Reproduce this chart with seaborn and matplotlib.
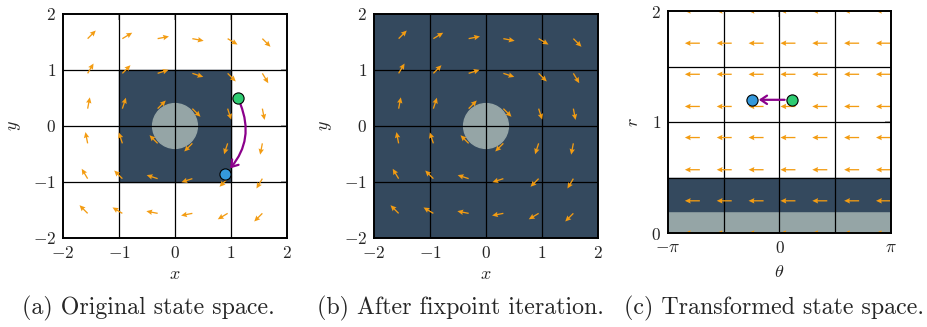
import numpy as np
import matplotlib
matplotlib.use("Agg")
import matplotlib.pyplot as plt
import seaborn as sns
from matplotlib.patches import Circle, Rectangle

# --- data ---
# vector field sample points for panels (a) and (b)
grid_xy = [-1.56, -0.94, -0.31, 0.31, 0.94, 1.56]
# arrow direction in degrees, rows from y=1.56 (top) to y=-1.56 (bottom)
field_angles = [
    [45, 31, 11, -11, -31, -45],
    [59, 45, 18, -18, -45, -59],
    [79, 72, 45, -45, -72, -79],
    [101, 108, 135, -135, -108, -101],
    [121, 135, 162, -162, -135, -121],
    [135, 149, 169, -169, -149, -135],
]
# trajectory in the original space
start_xy = [1.12, 0.50]
end_xy = [0.90, -0.85]
target_radius = 0.4

# transformed space (theta, r)
theta_pts = [-np.pi, -5 * np.pi / 7, -3 * np.pi / 7, -np.pi / 7,
             np.pi / 7, 3 * np.pi / 7, 5 * np.pi / 7, np.pi]
r_pts = [0.0, 0.29, 0.57, 0.86, 1.14, 1.43, 1.71, 2.0]
flow_dtheta = -1.0
start_tr = [0.34, 1.2]
end_tr = [-0.78, 1.2]
band_target = (0.0, 0.2)
band_safe = (0.2, 0.5)

captions = ["(a) Original state space.", "(b) After fixpoint iteration.",
            "(c) Transformed state space."]

# --- style ---
dark = "#34495e"
light = "#95a5a6"
orange = "#f39c12"
green = "#2ecc71"
blue = "#3498db"
purple = "#8b008b"

sns.set_style("white")
plt.rcParams["mathtext.fontset"] = "cm"
plt.rcParams["font.family"] = ["cmr10", "DejaVu Serif"]
plt.rcParams["axes.unicode_minus"] = False

fig = plt.figure(figsize=(9.28, 3.27), dpi=100)
ax_a = fig.add_axes([63 / 928, 1 - 238 / 327, 224 / 928, 224 / 327])
ax_b = fig.add_axes([374 / 928, 1 - 238 / 327, 224 / 928, 224 / 327])
ax_c = fig.add_axes([668 / 928, 1 - 233 / 327, 223 / 928, 222 / 327])

quiver_style = dict(pivot="tail", angles="xy", scale_units="inches",
                    units="inches", width=0.013, headwidth=4.2,
                    headlength=4.5, headaxislength=4, color=orange, zorder=4)


def style_axes(ax):
    for s in ax.spines.values():
        s.set_color("black")
        s.set_linewidth(1.4)
        s.set_zorder(6)
    ax.tick_params(direction="in", length=4, width=1.2, color="#999999",
                   top=True, right=True, labelsize=12.5, pad=5)


def xy_panel(ax, full_dark):
    ax.set_xlim(-2, 2)
    ax.set_ylim(-2, 2)
    if full_dark:
        ax.add_patch(Rectangle((-2, -2), 4, 4, color=dark, zorder=1))
    else:
        ax.add_patch(Rectangle((-1, -1), 2, 2, color=dark, zorder=1))
    ax.add_patch(Circle((0, 0), target_radius, color=light, zorder=2))
    for v in [-1, 0, 1]:
        ax.axvline(v, color="black", lw=0.9, zorder=3)
        ax.axhline(v, color="black", lw=0.9, zorder=3)
    X, Y = np.meshgrid(grid_xy, grid_xy[::-1])
    ang = np.deg2rad(np.array(field_angles))
    ax.quiver(X, Y, np.cos(ang), np.sin(ang), scale=1 / 0.115, **quiver_style)
    ticks = [-2, -1, 0, 1, 2]
    ax.set_xticks(ticks)
    ax.set_yticks(ticks)
    ax.set_xticklabels([f"${t}$" if t >= 0 else f"$-{-t}$" for t in ticks])
    ax.set_yticklabels([f"${t}$" if t >= 0 else f"$-{-t}$" for t in ticks])
    ax.set_xlabel("$x$", fontsize=13, labelpad=4)
    ax.set_ylabel("$y$", fontsize=13, labelpad=7)
    style_axes(ax)


xy_panel(ax_a, False)
xy_panel(ax_b, True)

# trajectory in panel (a)
ax_a.annotate("", xy=end_xy, xytext=start_xy,
              arrowprops=dict(arrowstyle="->,head_length=0.45,head_width=0.3",
                              color=purple, lw=1.6, shrinkA=5, shrinkB=5,
                              connectionstyle="arc3,rad=-0.35"), zorder=5)
sns.scatterplot(x=[start_xy[0]], y=[start_xy[1]], ax=ax_a, color=green, s=65,
                edgecolor="black", linewidth=0.8, zorder=6)
sns.scatterplot(x=[end_xy[0]], y=[end_xy[1]], ax=ax_a, color=blue, s=65,
                edgecolor="black", linewidth=0.8, zorder=6)

# panel (c)
ax_c.set_xlim(-np.pi, np.pi)
ax_c.set_ylim(0, 2)
ax_c.axhspan(*band_target, color=light, zorder=1)
ax_c.axhspan(*band_safe, color=dark, zorder=1)
for v in [-np.pi / 2, 0, np.pi / 2]:
    ax_c.axvline(v, color="black", lw=0.9, zorder=3)
for v in [0.5, 1.0, 1.5]:
    ax_c.axhline(v, color="black", lw=0.9, zorder=3)
T, R = np.meshgrid(theta_pts, r_pts)
ax_c.quiver(T, R, np.full(T.shape, flow_dtheta), np.zeros(T.shape),
            scale=1 / 0.15, **quiver_style)
ax_c.annotate("", xy=end_tr, xytext=start_tr,
              arrowprops=dict(arrowstyle="->,head_length=0.45,head_width=0.3",
                              color=purple, lw=1.6, shrinkA=5, shrinkB=5),
              zorder=5)
sns.scatterplot(x=[start_tr[0]], y=[start_tr[1]], ax=ax_c, color=green, s=65,
                edgecolor="black", linewidth=0.8, zorder=6)
sns.scatterplot(x=[end_tr[0]], y=[end_tr[1]], ax=ax_c, color=blue, s=65,
                edgecolor="black", linewidth=0.8, zorder=6)
ax_c.set_xticks([-np.pi, 0, np.pi])
ax_c.set_xticklabels([r"$-\pi$", "$0$", r"$\pi$"])
ax_c.set_yticks([0, 1, 2])
ax_c.set_yticklabels(["$0$", "$1$", "$2$"])
ax_c.set_xlabel(r"$\theta$", fontsize=13, labelpad=6)
ax_c.set_ylabel("$r$", fontsize=13, labelpad=7)
style_axes(ax_c)

cap_x = [22, 317, 624]
for cx, txt in zip(cap_x, captions):
    fig.text(cx / 928, 1 - 314 / 327, txt, fontsize=17.2, ha="left",
             va="baseline")

fig.savefig("out.png", dpi=100)
